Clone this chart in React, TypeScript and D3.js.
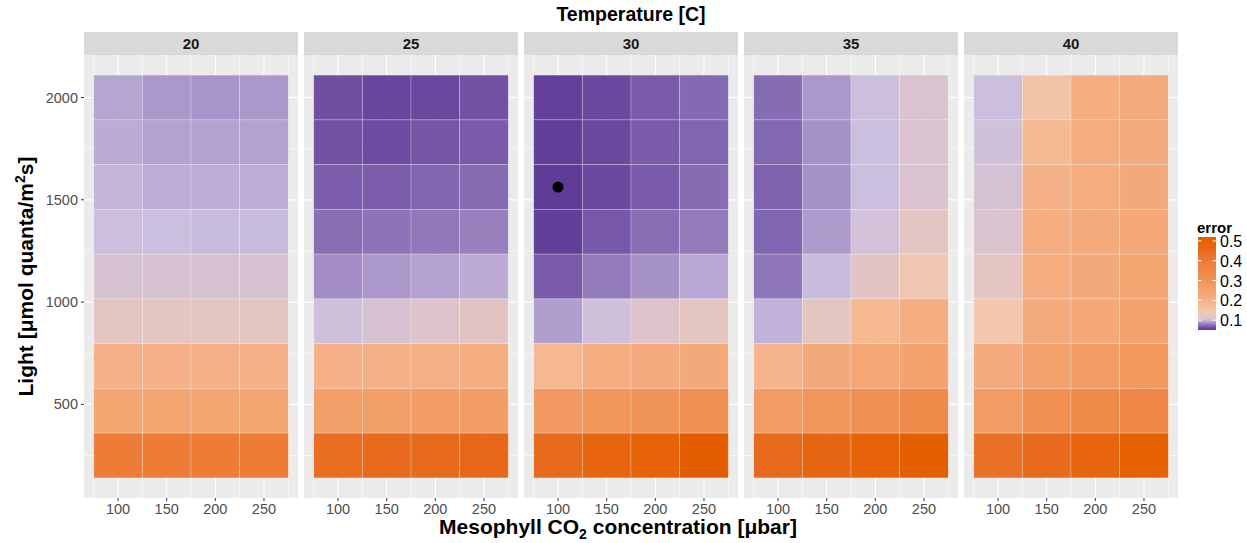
import React from 'react';
import * as d3 from 'd3';

// --- data ---
const temperatures = [20, 25, 30, 35, 40];
const co2Levels = [100, 150, 200, 250];
const lightLevels = [250, 468.75, 687.5, 906.25, 1125, 1343.75, 1562.5, 1781.25, 2000];
const yTicks = [500, 1000, 1500, 2000];
const xTicks = [100, 150, 200, 250];
const legendTicks = [0.1, 0.2, 0.3, 0.4, 0.5];

// error[temp] rows go from light 2000 (top) down to 250; columns CO2 100..250
const error20 = [
  [0.092, 0.088, 0.087, 0.088],
  [0.094, 0.091, 0.091, 0.091],
  [0.097, 0.095, 0.095, 0.095],
  [0.101, 0.1, 0.099, 0.099],
  [0.109, 0.109, 0.109, 0.109],
  [0.12, 0.12, 0.12, 0.12],
  [0.2, 0.2, 0.2, 0.2],
  [0.24, 0.24, 0.24, 0.24],
  [0.4, 0.4, 0.4, 0.4],
];
const error25 = [
  [0.061, 0.057, 0.058, 0.062],
  [0.062, 0.06, 0.064, 0.066],
  [0.067, 0.067, 0.07, 0.073],
  [0.074, 0.076, 0.078, 0.081],
  [0.085, 0.088, 0.091, 0.094],
  [0.103, 0.109, 0.114, 0.118],
  [0.2, 0.2, 0.205, 0.21],
  [0.26, 0.265, 0.27, 0.27],
  [0.44, 0.45, 0.45, 0.46],
];
const error30 = [
  [0.053, 0.059, 0.066, 0.072],
  [0.052, 0.059, 0.066, 0.07],
  [0.05, 0.059, 0.066, 0.073],
  [0.052, 0.065, 0.074, 0.079],
  [0.066, 0.079, 0.086, 0.093],
  [0.09, 0.103, 0.115, 0.121],
  [0.18, 0.21, 0.22, 0.225],
  [0.28, 0.3, 0.305, 0.32],
  [0.45, 0.48, 0.49, 0.52],
];
const error35 = [
  [0.073, 0.088, 0.101, 0.112],
  [0.071, 0.086, 0.1, 0.112],
  [0.069, 0.086, 0.1, 0.112],
  [0.07, 0.089, 0.106, 0.119],
  [0.077, 0.099, 0.118, 0.135],
  [0.096, 0.122, 0.18, 0.21],
  [0.19, 0.225, 0.235, 0.245],
  [0.275, 0.3, 0.32, 0.34],
  [0.45, 0.47, 0.49, 0.51],
];
const error40 = [
  [0.101, 0.15, 0.21, 0.22],
  [0.104, 0.175, 0.215, 0.22],
  [0.108, 0.195, 0.215, 0.225],
  [0.112, 0.21, 0.22, 0.23],
  [0.12, 0.215, 0.225, 0.24],
  [0.14, 0.22, 0.23, 0.245],
  [0.22, 0.25, 0.27, 0.285],
  [0.275, 0.32, 0.34, 0.35],
  [0.43, 0.45, 0.48, 0.5],
];
const errorByTemp = [error20, error25, error30, error35, error40];

// optimum marker
const optimumTemp = 30;
const optimumCo2 = 100;
const optimumLight = 1562.5;

// colour ramp stops
const rampValues = [0.05, 0.06, 0.07, 0.08, 0.09, 0.1, 0.11, 0.12, 0.14, 0.17, 0.2, 0.25, 0.3, 0.35, 0.4, 0.45, 0.5, 0.52];
const rampColors = ['#5e3c97', '#6e4ba0', '#8065b0', '#957dbb', '#b09ece', '#cbbfdf', '#d8c2d1', '#e4c5c2',
  '#f2c7ad', '#f5bc94', '#f5b087', '#f3a26d', '#f1955a', '#ee8747', '#ec7c36', '#e86a1c', '#e56101', '#e35d00'];

const FONT = '"Liberation Sans", Arial, Helvetica, sans-serif';

const cells = [];
temperatures.forEach((t, ti) => {
  lightLevels.slice().reverse().forEach((l, ri) => {
    co2Levels.forEach((c, ci) => {
      cells.push({ temp: t, light: l, co2: c, error: errorByTemp[ti][ri][ci] });
    });
  });
});

const App = () => {
  const width = 1247;
  const height = 543;
  const panelTop = 55;
  const panelBottom = 498;
  const stripTop = 32;

  const color = d3.scaleLinear<string>().domain(rampValues).range(rampColors)
    .interpolate(d3.interpolateLab).clamp(true);

  const panelX = d3.scaleBand<number>().domain(temperatures).range([84, 1178]).paddingInner(6 / 220);
  const pw = panelX.bandwidth();

  const x = d3.scaleLinear().domain([65, 285]).range([0, pw]);
  const lightStep = lightLevels[1] - lightLevels[0];
  const yLo = lightLevels[0] - lightStep / 2;
  const yHi = lightLevels[lightLevels.length - 1] + lightStep / 2;
  const yPad = (yHi - yLo) * 0.05;
  const y = d3.scaleLinear().domain([yLo - yPad, yHi + yPad]).range([panelBottom, panelTop]);
  const xMinor = [75, 125, 175, 225, 275];
  const yMinor = [250, 750, 1250, 1750];

  const [eMin, eMax] = d3.extent(cells, d => d.error) as [number, number];
  const legX = 1198, legW = 18, legTop = 237, legBottom = 330;
  const legY = d3.scaleLinear().domain([eMin, eMax]).range([legBottom, legTop]);
  const gradStops = d3.range(0, 1.0001, 0.02).map(f => ({ off: f, col: color(eMin + f * (eMax - eMin)) }));

  return (
    <div style={{ position: 'absolute', left: 0, top: 0 }}>
      <svg width={width} height={height} style={{ display: 'block', background: '#fff' }} fontFamily={FONT}>
        <defs>
          <linearGradient id="errGrad" x1="0" y1="1" x2="0" y2="0">
            {gradStops.map((s, i) => <stop key={i} offset={s.off} stopColor={s.col} />)}
          </linearGradient>
        </defs>
        <text x={631} y={21} textAnchor="middle" fontSize={19.5} fontWeight="bold" fill="#000">Temperature [C]</text>

        {temperatures.map((t, ti) => {
          const px = panelX(t) as number;
          const panelCells = cells.filter(d => d.temp === t);
          return (
            <g key={t} transform={`translate(${px},0)`}>
              <rect x={0} y={stripTop} width={pw} height={panelTop - stripTop} fill="#d9d9d9" />
              <text x={pw / 2} y={(stripTop + panelTop) / 2 + 5.5} textAnchor="middle" fontSize={15} fontWeight="bold" fill="#1a1a1a">{t}</text>
              <rect x={0} y={panelTop} width={pw} height={panelBottom - panelTop} fill="#ebebeb" />
              {xMinor.map(v => <line key={'xm' + v} x1={x(v)} x2={x(v)} y1={panelTop} y2={panelBottom} stroke="#fff" strokeWidth={0.6} />)}
              {yMinor.map(v => <line key={'ym' + v} x1={0} x2={pw} y1={y(v)} y2={y(v)} stroke="#fff" strokeWidth={0.6} />)}
              {xTicks.map(v => <line key={'xM' + v} x1={x(v)} x2={x(v)} y1={panelTop} y2={panelBottom} stroke="#fff" strokeWidth={1.2} />)}
              {yTicks.map(v => <line key={'yM' + v} x1={0} x2={pw} y1={y(v)} y2={y(v)} stroke="#fff" strokeWidth={1.2} />)}
              {panelCells.map((d, i) => (
                <rect key={i}
                  x={x(d.co2 - 25)} y={y(d.light + lightStep / 2)}
                  width={x(d.co2 + 25) - x(d.co2 - 25)} height={y(d.light - lightStep / 2) - y(d.light + lightStep / 2)}
                  fill={color(d.error)} stroke="rgba(255,255,255,0.3)" strokeWidth={0.8} />
              ))}
              {t === optimumTemp && (
                <circle cx={x(optimumCo2)} cy={y(optimumLight)} r={5.5} fill="#000" />
              )}
              {xTicks.map(v => (
                <g key={'xt' + v}>
                  <line x1={x(v)} x2={x(v)} y1={panelBottom} y2={panelBottom + 3} stroke="#333" strokeWidth={1} />
                  <text x={x(v)} y={panelBottom + 16} textAnchor="middle" fontSize={14.5} fill="#4d4d4d">{v}</text>
                </g>
              ))}
              {ti === 0 && yTicks.map(v => (
                <g key={'yt' + v}>
                  <line x1={-3} x2={0} y1={y(v)} y2={y(v)} stroke="#333" strokeWidth={1} />
                  <text x={-6} y={y(v) + 5} textAnchor="end" fontSize={14.5} fill="#4d4d4d">{v}</text>
                </g>
              ))}
            </g>
          );
        })}

        <text x={618} y={534} textAnchor="middle" fontSize={21} fontWeight="bold" fill="#000">
          Mesophyll CO<tspan fontSize={14} dy={5}>2</tspan><tspan dy={-5}> concentration [μbar]</tspan>
        </text>
        <text transform={`translate(33,${(panelTop + panelBottom) / 2}) rotate(-90)`} textAnchor="middle" fontSize={21} fontWeight="bold" fill="#000">
          Light [μmol quanta/m<tspan fontSize={14} dy={-8}>2</tspan><tspan dy={8}>s]</tspan>
        </text>

        <text x={legX - 1} y={legTop - 4} fontSize={15} fontWeight="bold" fill="#000">error</text>
        <rect x={legX} y={legTop} width={legW} height={legBottom - legTop} fill="url(#errGrad)" />
        {legendTicks.map(v => (
          <g key={'lt' + v}>
            <line x1={legX} x2={legX + 3.5} y1={legY(v)} y2={legY(v)} stroke="#fff" strokeWidth={1} />
            <line x1={legX + legW - 3.5} x2={legX + legW} y1={legY(v)} y2={legY(v)} stroke="#fff" strokeWidth={1} />
            <text x={legX + legW + 4} y={legY(v) + 6} fontSize={16} fill="#000">{v.toFixed(1)}</text>
          </g>
        ))}
      </svg>
    </div>
  );
};

export default App;
